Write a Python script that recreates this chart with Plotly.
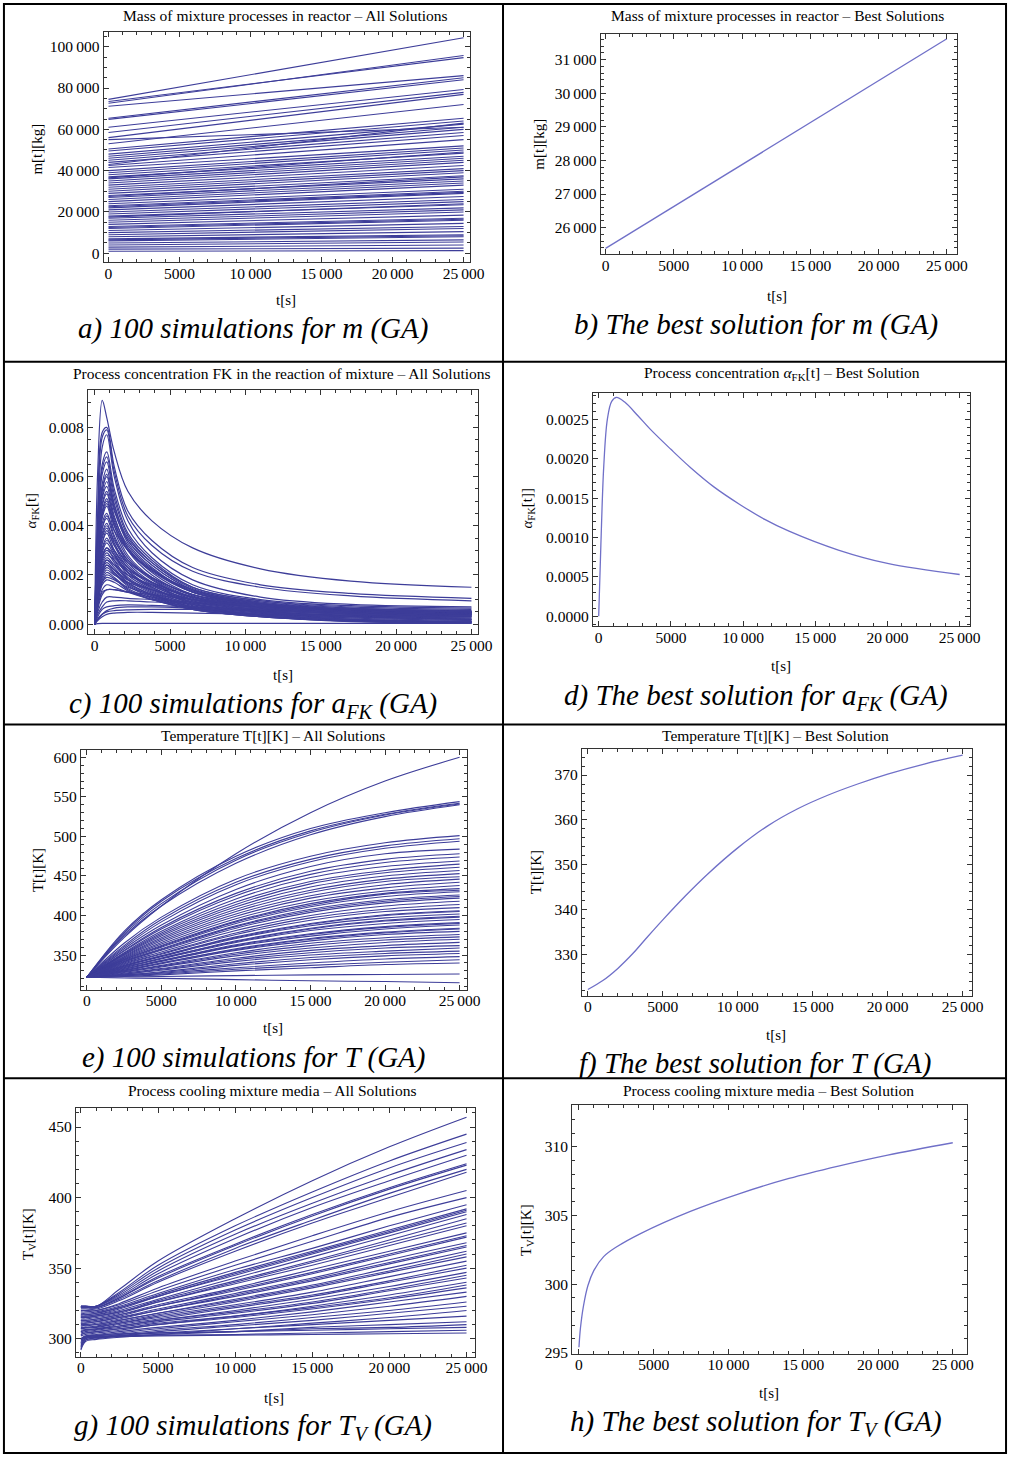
import plotly.graph_objects as go

W, H = 1022, 1462
SERIF = "Liberation Serif"
LINE = "rgb(61,61,153)"
BEST = "rgb(112,112,200)"

# ---------------- data ----------------
x_ticks = [0, 5000, 10000, 15000, 20000, 25000]
x_ticktext = ["0", "5000", "10\u2009000", "15\u2009000", "20\u2009000", "25\u2009000"]

# a) mass, straight lines: value at t=0 and t=25000
a_t = [0, 25000]
a_start = [74500, 72600, 71200, 73500, 65400, 64800, 61000, 58500, 56000, 53000, 50500, 49500,
           48000, 47000, 46000, 45000, 44000, 42500, 41500, 40000, 39000, 38000, 37000, 36000,
           35000, 34000, 33000, 32000, 31000, 30000, 29000, 28000, 27000, 26000, 25000, 24000,
           23000, 22000, 21000, 20000, 19000, 18000, 17000, 16000, 15000, 14000, 13000, 12000,
           11000, 10000, 9000, 8000, 7000, 6000, 5000, 4000, 3000, 2000, 1000, 55000, 43000,
           36500, 27500, 22500, 17500, 12500, 6500]
a_end = [104300, 95700, 86000, 94700, 85000, 84000, 79300, 77900, 76900, 72000, 65400, 64000,
         62500, 61000, 60000, 58500, 57000, 55000, 52000, 51000, 50000, 48500, 47000, 46000,
         45000, 44000, 42500, 41000, 40000, 39000, 37500, 36000, 35000, 34000, 33000, 31000,
         30000, 29000, 27500, 26000, 25000, 23500, 22000, 21000, 20000, 18500, 17000, 16000,
         14500, 13000, 12000, 10500, 9000, 8000, 6500, 5500, 4000, 2500, 1300, 61000, 63000,
         49000, 37000, 29500, 24000, 16500, 8500]

# b) best mass
b_t = [0, 25000]
b_m = [25380, 31620]

# c) concentration, all solutions (values in 1e-4)
c_t = [0, 200, 500, 800, 1300, 2200, 3800, 6500, 11000, 17000, 25000]
c_curves = [
    [0, 62, 91, 84, 70, 54, 42, 31, 22.5, 17.5, 15],
    [0, 45, 78, 80, 64, 46, 34, 23, 16, 12.5, 10.5],
    [0, 43, 76, 79, 62, 44, 32, 21.5, 15, 11.5, 9.5],
    [0, 40, 72, 77, 60, 42, 29, 18, 11, 8, 7],
    [0, 36, 65, 70, 55, 39, 27, 16, 10, 7.5, 6.5],
    [0, 34, 63, 68, 53, 37, 26, 15, 9.5, 7, 6],
    [0, 33, 61, 66, 51, 36, 25, 14.5, 9, 6.5, 5.5],
    [0, 31, 57, 63, 49, 34, 24, 14, 8.5, 6, 5],
    [0, 29, 54, 60, 47, 33, 23, 13, 8, 5.5, 4.5],
    [0, 27, 51, 56, 44, 31, 21, 12, 7.5, 5, 4],
    [0, 26, 48, 53, 42, 30, 20, 11.5, 7, 5, 4],
    [0, 24, 45, 50, 40, 28, 19, 11, 6.5, 4.5, 3.5],
    [0, 23, 43, 48, 38, 27, 18.5, 10.5, 6.5, 4.5, 3.5],
    [0, 22, 41, 45, 36, 26, 18, 10, 6, 4, 3],
    [0, 21, 39, 43, 35, 25, 17, 9.5, 6, 4, 3],
    [0, 20, 37, 41, 33, 24, 16.5, 9.5, 5.5, 3.5, 2.5],
    [0, 19, 35, 39, 32, 23, 16, 9, 5.5, 3.5, 2.5],
    [0, 18, 33, 37, 30, 22, 15, 8.5, 5, 3, 2],
    [0, 17, 31, 35, 29, 21, 14.5, 8.5, 5, 3, 2],
    [0, 16, 29, 33, 28, 20, 14, 8, 4.5, 2.5, 1.5],
    [0, 15, 28, 31, 26, 19, 13.5, 8, 4.5, 2.5, 1.5],
    [0, 14, 26, 29, 25, 18.5, 13, 7.5, 4, 2, 1],
    [0, 13, 24, 27, 24, 18, 12.5, 7, 4, 2, 1],
    [0, 12, 23, 26, 23, 17, 12, 7, 4, 2, 1],
    [0, 11, 22, 25, 22, 16.5, 12, 7, 3.5, 1.5, 0.8],
    [0, 11, 21, 24, 21, 16, 11.5, 6.5, 3.5, 1.5, 0.8],
    [0, 10, 20, 23, 20.5, 15.5, 11, 6.5, 3.5, 1.5, 0.6],
    [0, 9, 18, 21, 19, 14.5, 10.5, 6, 3, 1.2, 0.5],
    [0, 9, 17, 20, 18.5, 14, 10, 6, 3, 1.2, 0.5],
    [0, 8, 16, 18, 17, 13.5, 10, 6, 3, 1, 0.4],
    [0, 6, 12, 14, 14, 13, 11, 8, 5, 3, 2],
    [0, 5, 9, 11, 11, 10.5, 10, 9, 7, 5.5, 4.5],
    [0, 4, 7, 9, 9.5, 9.5, 9, 8.5, 7, 5.5, 4.5],
    [0, 3, 6, 7, 7.5, 7.8, 7.6, 7, 6, 5, 4],
    [0, 2, 4, 5, 5.5, 5.8, 6, 6, 5.8, 5.3, 4.8],
    [0, 2, 4, 5.5, 6.5, 7, 7, 6.5, 5.5, 4.5, 3.5],
    [0, 1.5, 3, 4, 4.5, 4.8, 4.8, 4.5, 4, 3.5, 3],
    [0, 0.2, 0.3, 0.3, 0.3, 0.3, 0.3, 0.3, 0.3, 0.3, 0.3],
    [0, 21, 39, 44, 38, 30, 22, 14, 9, 6, 5],
    [0, 15, 27, 30, 27, 22, 17, 11, 7, 5, 4],
    [0, 10, 19, 22, 20, 17, 14, 10, 7, 5, 4],
    [0, 7, 13, 14, 14, 13, 12, 10, 8, 6, 5],
    [0, 12, 22, 26, 24, 20, 16, 11, 7.5, 5.5, 4.5],
    [0, 18, 33, 38, 32, 25, 19, 12, 8, 5.5, 4.5],
    [0, 25, 46, 51, 41, 31, 22, 13, 8, 5, 4],
    [0, 28, 52, 58, 46, 34, 24, 14, 8.5, 5.5, 4.5],
    [0, 30, 55, 61, 48, 35, 25, 15, 9.5, 6.5, 5.5],
    [0, 24, 44, 49, 40, 30, 21.5, 13, 8.5, 6, 5],
    [0, 19, 36, 40, 34, 26, 19, 12, 8, 6, 5],
    [0, 16, 30, 34, 30, 23, 17, 11, 7, 5, 4],
    [0, 13, 25, 28, 26, 21, 15.5, 10, 6.5, 4.5, 3.5],
    [0, 11, 21, 24, 22, 18, 14, 9, 6, 4, 3],
    [0, 9, 17, 19, 18, 15, 12, 8, 5, 3, 2],
    [0, 7, 14, 16, 15, 13, 10, 7, 4, 2, 1],
    [0, 14, 27, 31, 28, 21, 15, 9, 5, 3, 2],
    [0, 26, 49, 54, 43, 32, 22.5, 13.5, 8.5, 6, 5],
]

# d) best concentration (1e-4)
d_t = [0, 150, 350, 600, 900, 1230, 1800, 2700, 3600, 5000, 6350, 8000, 9770, 11500, 13180,
       16600, 20000, 25000]
d_a = [0, 9, 19, 25, 27.3, 27.8, 27.2, 25.5, 23.7, 21.2, 18.9, 16.4, 14.2, 12.3, 10.8, 8.4,
       6.7, 5.3]

# e) temperature, all solutions
e_t = [0, 2500, 5000, 10000, 15000, 20000, 25000]
e_curves = [
    [322, 372, 412, 478, 530, 570, 600],
    [322, 380, 420, 475, 510, 530, 544],
    [322, 378, 418, 472, 507, 528, 542],
    [322, 376, 415, 470, 505, 527, 541],
    [322, 374, 412, 466, 502, 525, 540],
    [322, 365, 398, 446, 475, 492, 501],
    [322, 362, 395, 442, 471, 488, 497],
    [322, 360, 392, 439, 468, 485, 494],
    [322, 358, 388, 433, 462, 478, 484],
    [322, 356, 385, 428, 456, 471, 478],
    [322, 355, 383, 425, 452, 467, 474],
    [322, 353, 380, 421, 448, 462, 469],
    [322, 352, 378, 417, 443, 457, 465],
    [322, 351, 376, 414, 440, 454, 461],
    [322, 350, 374, 411, 436, 450, 457],
    [322, 349, 372, 408, 432, 446, 453],
    [322, 348, 370, 405, 429, 443, 449],
    [322, 347, 368, 402, 425, 439, 446],
    [322, 346, 366, 399, 422, 435, 442],
    [322, 345, 364, 396, 418, 431, 438],
    [322, 344, 362, 393, 415, 428, 434],
    [322, 343, 360, 390, 411, 424, 430],
    [322, 342, 358, 387, 408, 420, 426],
    [322, 341, 356, 384, 404, 416, 422],
    [322, 340, 354, 381, 400, 412, 418],
    [322, 339, 352, 378, 397, 408, 414],
    [322, 338, 351, 376, 394, 405, 410],
    [322, 337, 349, 373, 390, 401, 406],
    [322, 336, 348, 371, 387, 397, 402],
    [322, 335, 346, 368, 384, 394, 399],
    [322, 334, 345, 366, 381, 390, 395],
    [322, 333, 343, 363, 377, 386, 391],
    [322, 332, 342, 361, 374, 383, 388],
    [322, 331, 340, 358, 371, 379, 384],
    [322, 330, 339, 356, 368, 376, 380],
    [322, 329, 337, 353, 365, 372, 376],
    [322, 329, 336, 351, 362, 369, 373],
    [322, 328, 335, 349, 359, 366, 370],
    [322, 327, 333, 346, 356, 362, 366],
    [322, 326, 332, 344, 353, 359, 362],
    [322, 326, 331, 342, 350, 355, 359],
    [322, 325, 329, 339, 347, 352, 355],
    [322, 325, 328, 337, 344, 349, 352],
    [322, 324, 327, 334, 340, 345, 348],
    [322, 324, 326, 332, 337, 341, 344],
    [322, 323, 325, 330, 334, 338, 340],
    [322, 322.5, 323, 324, 325, 325.5, 326],
    [322, 321, 320.5, 319, 317.5, 316.5, 315],
    [322, 336, 349, 372, 389, 400, 405],
    [322, 334, 346, 367, 383, 393, 398],
    [322, 332, 343, 362, 376, 385, 390],
    [322, 330, 340, 357, 370, 378, 383],
    [322, 344, 361, 392, 413, 427, 432],
    [322, 342, 357, 386, 406, 418, 424],
]

# f) best temperature
f_t = [0, 1000, 2000, 3000, 4000, 5000, 6500, 8000, 10000, 12000, 14000, 16000, 18000, 20000,
       22500, 25000]
f_T = [322.3, 324.3, 327.0, 330.3, 334.1, 337.8, 343.1, 348.0, 353.8, 358.7, 362.5, 365.5,
       368.0, 370.2, 372.5, 374.4]

# g) cooling media, all solutions
g_t = [0, 300, 1000, 2500, 5000, 10000, 15000, 20000, 25000]
g_curves = [
    [323, 323, 323, 335, 355, 385, 412, 436, 457],
    [323, 323, 323, 333, 352, 380, 404, 426, 445],
    [323, 323, 323, 332, 350, 377, 400, 421, 439],
    [323, 323, 323, 331, 348, 374, 396, 416, 434],
    [323, 323, 323, 330, 346, 371, 393, 412, 430],
    [322, 322, 322, 329, 344, 367, 388, 407, 424],
    [322, 322, 322, 329, 343, 366, 387, 406, 423],
    [321, 321, 321, 327, 340, 362, 382, 400, 418],
    [320, 320, 320, 325, 336, 355, 373, 390, 405],
    [318, 318, 319, 323, 332, 349, 364, 380, 395],
    [317, 317, 318, 322, 331, 347, 362, 377, 392],
    [316, 316, 317, 321, 330, 345, 360, 375, 390],
    [316, 316, 317, 320, 328, 343, 358, 373, 388],
    [315, 315, 316, 319, 327, 341, 355, 370, 385],
    [314, 314, 315, 318, 326, 339, 352, 366, 380],
    [313, 313, 314, 317, 324, 336, 349, 362, 375],
    [312, 312, 313, 316, 323, 334, 346, 359, 372],
    [311, 311, 312, 315, 321, 332, 343, 356, 368],
    [310, 310, 311, 314, 320, 330, 341, 353, 365],
    [309, 309, 310, 313, 318, 328, 338, 350, 362],
    [308, 308, 309, 312, 317, 326, 336, 347, 358],
    [307, 307.5, 308, 311, 316, 324, 333, 344, 355],
    [306, 306.5, 307, 310, 314, 322, 330, 340, 350],
    [305, 306, 306.5, 309, 313, 320, 328, 337, 347],
    [304, 305, 306, 308, 312, 318, 325, 334, 343],
    [303, 304, 305, 307, 311, 316, 323, 331, 340],
    [302, 303, 304, 306, 310, 315, 321, 328, 336],
    [300, 302, 303, 305, 308, 313, 319, 326, 333],
    [298, 301, 302, 304, 307, 312, 317, 323, 330],
    [296, 300, 301, 303, 306, 310, 315, 320, 326],
    [294, 299, 300, 302, 305, 309, 313, 318, 323],
    [292, 298, 299.5, 301, 303, 307, 311, 315, 320],
    [293, 299, 300.5, 302, 304, 307, 310, 313, 316],
    [295, 300, 301, 302, 303, 305, 308, 310, 312],
    [297, 301, 302, 303, 304, 305, 307, 308, 310],
    [299, 301.5, 302.5, 303.5, 304, 305, 306, 307, 308],
    [300, 301, 301.5, 302, 302.5, 303, 304, 305, 306],
    [300, 300.5, 301, 301.5, 302, 302.5, 303, 303.5, 304],
    [322, 322, 322, 328, 341, 364, 384, 403, 420],
    [319, 319, 320, 324, 334, 352, 369, 386, 400],
    [317, 317, 318, 322, 330, 346, 361, 376, 391],
    [315, 315, 316, 319, 326, 340, 354, 368, 382],
    [313, 313, 314, 317, 323, 335, 347, 360, 373],
    [311, 311, 312, 315, 320, 331, 342, 354, 366],
    [309, 309.5, 310, 313, 318, 327, 337, 348, 360],
    [307, 308, 308.5, 311, 315, 323, 331, 341, 352],
    [305, 306, 307, 309, 313, 319, 326, 335, 345],
    [303, 304, 305, 307, 310, 316, 322, 329, 338],
]

# h) best cooling media
h_t = [0, 100, 300, 600, 1000, 1650, 2500, 4150, 7450, 10750, 14050, 17350, 20650, 25000]
h_Tv = [295.4, 296.8, 298.4, 299.9, 301.0, 302.0, 302.7, 303.7, 305.3, 306.6, 307.7, 308.6,
        309.4, 310.3]

# ---------------- figure ----------------
fig = go.Figure()


def px(x):
    return x / W


def py(y):
    return 1 - y / H


panels = [
    dict(frame=(105, 30, 477, 262), xr=[-347, 25486], yr=[-4400, 107200],
         yt=[0, 20000, 40000, 60000, 80000, 100000],
         ytt=["0", "20\u2009000", "40\u2009000", "60\u2009000", "80\u2009000", "100\u2009000"], ym=5000),
    dict(frame=(609, 32, 970, 254), xr=[-361, 25722], yr=[25201, 31769],
         yt=[26000, 27000, 28000, 29000, 30000, 31000],
         ytt=["26\u2009000", "27\u2009000", "28\u2009000", "29\u2009000", "30\u2009000", "31\u2009000"], ym=200),
    dict(frame=(89, 390, 485, 636), xr=[-458, 25458], yr=[-0.000404, 0.009535],
         yt=[0, 0.002, 0.004, 0.006, 0.008],
         ytt=["0.000", "0.002", "0.004", "0.006", "0.008"], ym=0.0005),
    dict(frame=(601, 393, 983, 628), xr=[-410, 25683], yr=[-0.000126, 0.002841],
         yt=[0, 0.0005, 0.001, 0.0015, 0.002, 0.0025],
         ytt=["0.0000", "0.0005", "0.0010", "0.0015", "0.0020", "0.0025"], ym=0.0001),
    dict(frame=(82, 753, 473, 994), xr=[-397, 25463], yr=[306, 608.8],
         yt=[350, 400, 450, 500, 550, 600],
         ytt=["350", "400", "450", "500", "550", "600"], ym=10),
    dict(frame=(590, 752, 985, 1000), xr=[-395, 25592], yr=[320.9, 375.7],
         yt=[330, 340, 350, 360, 370],
         ytt=["330", "340", "350", "360", "370"], ym=2),
    dict(frame=(77, 1113, 482, 1363), xr=[-320, 25575], yr=[287.3, 463.4],
         yt=[300, 350, 400, 450],
         ytt=["300", "350", "400", "450"], ym=10),
    dict(frame=(580, 1110, 980, 1360), xr=[-462, 25923], yr=[294.93, 313.04],
         yt=[295, 300, 305, 310],
         ytt=["295", "300", "305", "310"], ym=1),
]

tickfont = dict(family=SERIF, size=15.5, color="black")
for i, p in enumerate(panels, start=1):
    L, T, R, B = p["frame"]
    xa = dict(domain=[px(L), px(R)], range=p["xr"], anchor="y%d" % i,
              tickvals=x_ticks, ticktext=x_ticktext, ticks="inside", ticklen=5,
              tickcolor="#333", showline=True, linecolor="#333", linewidth=1,
              mirror="allticks", showgrid=False, zeroline=False, tickfont=tickfont,
              minor=dict(dtick=1000, tick0=0, ticks="inside", ticklen=3, tickcolor="#333",
                         showgrid=False))
    ya = dict(domain=[py(B), py(T)], range=p["yr"], anchor="x%d" % i,
              tickvals=p["yt"], ticktext=p["ytt"], ticks="inside", ticklen=5,
              tickcolor="#333", showline=True, linecolor="#333", linewidth=1,
              mirror="allticks", showgrid=False, zeroline=False, tickfont=tickfont,
              minor=dict(dtick=p["ym"], tick0=0, ticks="inside", ticklen=3, tickcolor="#333",
                         showgrid=False))
    fig.update_layout(**{"xaxis%d" % i if i > 1 else "xaxis": xa,
                         "yaxis%d" % i if i > 1 else "yaxis": ya})

# pull x tick labels a little closer to the frame, if this plotly supports it
try:
    fig.update_xaxes(ticklabelstandoff=-3)
except Exception:
    pass


def add_line(i, xs, ys, color, width, smooth=True):
    fig.add_trace(go.Scatter(
        x=xs, y=ys, mode="lines", xaxis="x%d" % i if i > 1 else "x",
        yaxis="y%d" % i if i > 1 else "y",
        line=dict(color=color, width=width, shape="spline" if smooth else "linear",
                  smoothing=1.0),
        showlegend=False, hoverinfo="skip"))


for s, e in zip(a_start, a_end):
    add_line(1, a_t, [s, e], LINE, 1.1, smooth=False)
add_line(2, b_t, b_m, BEST, 1.3, smooth=False)
for c in c_curves:
    add_line(3, c_t, [v * 1e-4 for v in c], LINE, 1.2)
add_line(4, d_t, [v * 1e-4 for v in d_a], BEST, 1.3)
for c in e_curves:
    add_line(5, e_t, c, LINE, 1.1)
add_line(6, f_t, f_T, BEST, 1.3)
for c in g_curves:
    add_line(7, g_t, c, LINE, 1.1)
add_line(8, h_t, h_Tv, BEST, 1.3)

# ---------------- texts ----------------
titles = [
    ("Mass of mixture processes in reactor \u2013 All Solutions", 289, 14),
    ("Mass of mixture processes in reactor \u2013 Best Solutions", 788, 14),
    ("Process concentration FK in the reaction of mixture \u2013 All Solutions", 286, 374),
    ("Process concentration <i>\u03b1</i><sub>FK</sub>[t] \u2013 Best Solution", 793, 374),
    ("Temperature T[t][K] \u2013 All Solutions", 277, 738),
    ("Temperature T[t][K] \u2013 Best Solution", 786, 738),
    ("Process cooling mixture media \u2013 All Solutions", 276, 1095),
    ("Process cooling mixture media \u2013 Best Solution", 779, 1095),
]
xlabels = [(290, 300), (788, 296), (287, 677), (792, 668), (277, 1032), (787, 1039),
           (278, 1405), (780, 1400)]
ylabels = [
    ("m[t][kg]", 38, 148), ("m[t][kg]", 547, 143),
    ("<i>\u03b1</i><sub>FK</sub>[t]", 32, 512), ("<i>\u03b1</i><sub>FK</sub>[t]]", 535, 510),
    ("T[t][K]", 38, 873), ("T[t][K]", 543, 876),
    ("T<sub>V</sub>[t][K]", 30, 1240), ("T<sub>V</sub>[t][K]", 535, 1236),
]
captions = [
    ("a) 100 simulations for m (GA)", 257, 329),
    ("b) The best solution for m (GA)", 766, 324),
    ("c) 100 simulations for a<sub>FK</sub> (GA)", 257, 707),
    ("d) The best solution for a<sub>FK</sub> (GA)", 766, 699),
    ("e) 100 simulations for T (GA)", 257, 1062),
    ("f) The best solution for T (GA)", 765, 1068),
    ("g) 100 simulations for T<sub>V</sub> (GA)", 257, 1434),
    ("h) The best solution for T<sub>V</sub> (GA)", 766, 1430),
]

ann = []
for t, x, y in titles:
    ann.append(dict(text=t, x=px(x), y=py(y), xref="paper", yref="paper", showarrow=False,
                    xanchor="center", yanchor="middle",
                    font=dict(family=SERIF, size=15.5, color="black")))
for x, y in xlabels:
    ann.append(dict(text="t[s]", x=px(x), y=py(y), xref="paper", yref="paper", showarrow=False,
                    xanchor="center", yanchor="middle",
                    font=dict(family=SERIF, size=15, color="black")))
for t, x, y in ylabels:
    ann.append(dict(text=t, x=px(x), y=py(y), xref="paper", yref="paper", showarrow=False,
                    xanchor="center", yanchor="middle", textangle=-90,
                    font=dict(family=SERIF, size=15, color="black")))
for t, x, y in captions:
    ann.append(dict(text="<i>" + t + "</i>", x=px(x), y=py(y), xref="paper", yref="paper",
                    showarrow=False, xanchor="center", yanchor="middle",
                    font=dict(family=SERIF, size=29, color="black")))

shapes = []
border = dict(color="black", width=2)
shapes.append(dict(type="rect", xref="paper", yref="paper", x0=px(4), x1=px(1020),
                   y0=py(1460), y1=py(2), line=border))
shapes.append(dict(type="line", xref="paper", yref="paper", x0=px(510), x1=px(510),
                   y0=py(1460), y1=py(2), line=border))
for yy in [362, 727, 1083]:
    shapes.append(dict(type="line", xref="paper", yref="paper", x0=px(4), x1=px(1020),
                       y0=py(yy), y1=py(yy), line=border))

fig.update_layout(width=W, height=H, margin=dict(l=0, r=0, t=0, b=0),
                  paper_bgcolor="white", plot_bgcolor="white",
                  annotations=ann, shapes=shapes, showlegend=False)

fig.write_html("out.html", config={"displayModeBar": False},
               post_script="document.body.style.margin='0';")
